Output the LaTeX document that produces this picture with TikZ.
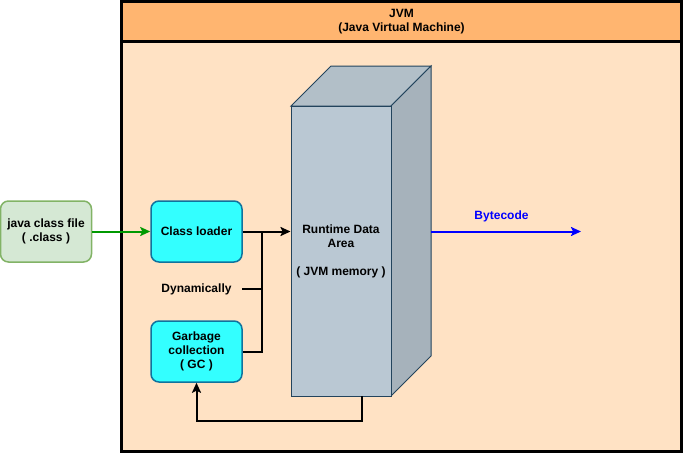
\documentclass[tikz,border=0pt]{standalone}
\usepackage{fontspec}
\setmainfont{Liberation Sans}
\usetikzlibrary{arrows.meta}
\definecolor{hdr}{HTML}{FFB570}
\definecolor{body}{HTML}{FFE2C4}
\definecolor{cyanfill}{HTML}{33FFFF}
\definecolor{cyanline}{HTML}{10739E}
\definecolor{greenfill}{HTML}{D5E8D4}
\definecolor{greenline}{HTML}{82B366}
\definecolor{cubefront}{HTML}{BAC8D3}
\definecolor{cubetop}{HTML}{B2BFC8}
\definecolor{cuberight}{HTML}{A6B2BB}
\definecolor{cubeline}{HTML}{23445D}
\definecolor{arrgreen}{HTML}{009900}
\begin{document}
\begin{tikzpicture}[x=1pt,y=-1pt,
  every node/.style={font=\fontsize{12}{14}\selectfont\bfseries, inner sep=0pt, align=center},
  procbox/.style={draw=cyanline, fill=cyanfill, line width=1.5pt, rounded corners=8pt, minimum width=91pt, minimum height=61pt},
  filebox/.style={draw=greenline, fill=greenfill, line width=1.5pt, rounded corners=8pt, minimum width=91pt, minimum height=61pt},
  conn/.style={line width=2pt, draw=black},
  arr/.style={-{Stealth[length=10pt,width=9pt,inset=2pt]}},
  cubeface/.style={draw=cubeline, line width=1pt, line join=miter}
]
\useasboundingbox (0,0) rectangle (683,453);
% JVM container
\fill[body] (121.5,1.5) rectangle (681.5,451.5);
\fill[hdr] (121.5,1.5) rectangle (681.5,41);
\draw[line width=3pt] (121.5,41) -- (681.5,41);
\draw[line width=3pt] (121.5,1.5) rectangle (681.5,451.5);
\node (jvm) at (401.5,21.5) {JVM\\(Java Virtual Machine)};

% cube
\draw[cubeface, fill=cubetop] (291,106) -- (331,66) -- (431,66) -- (391,106) -- cycle;
\draw[cubeface, fill=cuberight] (391,106) -- (431,66) -- (431,356) -- (391,396) -- cycle;
\node[cubeface, fill=cubefront, minimum width=100pt, minimum height=290pt] (rda) at (341,251)
  {Runtime Data\\Area\\[14pt]( JVM memory )};

% boxes
\node[filebox] (jcf) at (46,231.5) {java class file\\( .class )};
\node[procbox] (cl) at (196.5,231.5) {Class loader};
\node[procbox] (gc) at (196.5,351.5) {Garbage\\collection\\( GC )};
\node[minimum width=91pt] (dyn) at (196.5,289) {Dynamically};

\coordinate (j1) at (262,231.5);
\coordinate (bcstart) at (431,231.5);
\coordinate (bcend) at (581,231.5);

\draw[conn, draw=arrgreen, arr] (jcf.east) -- (cl.west);
\draw[conn, arr] (cl.east) -- (rda.west |- cl.east);
\draw[conn] (gc.east) -| (j1);
\draw[conn] (dyn.east) -- (dyn.east -| j1);
\draw[conn, arr] (361.5,396) -- (361.5,421) -| (gc.south);
\draw[conn, draw=blue, arr] (bcstart) -- (bcend);
\node[text=blue] (bc) at (501.5,216) {Bytecode};
\end{tikzpicture}
\end{document}
